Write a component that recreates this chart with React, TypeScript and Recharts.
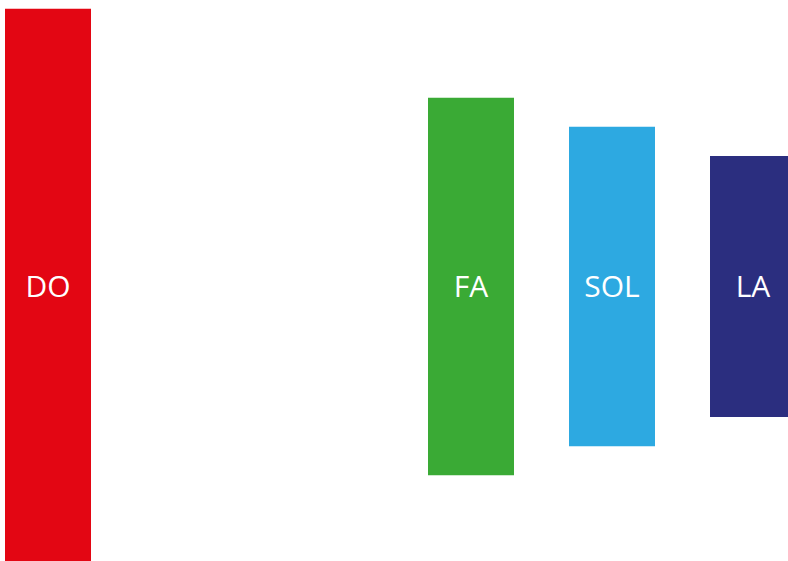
import React from "react";
import { BarChart, Bar, XAxis, YAxis, Cell, LabelList } from "recharts";

const notes = ["DO", "RE", "MI", "FA", "SOL", "LA"];
const heights: (number | null)[] = [100, null, null, 68, 57.5, 47];
const colors = ["#E30613", "#F39200", "#FFDD00", "#3AAA35", "#2DA9E1", "#2B2E7F"];

const data = notes.map((n, i) => ({
  note: n,
  range: heights[i] == null ? null : [-(heights[i] as number) / 2, (heights[i] as number) / 2],
  label: heights[i] == null ? "" : n,
}));

export default function App() {
  return (
    <div style={{ position: "fixed", left: 0, top: 0, width: 788, height: 561, overflow: "hidden", background: "#fff" }}>
      <div style={{ position: "absolute", left: -23, top: -19 }}>
        <BarChart width={846} height={611} data={data} margin={{ top: 0, right: 0, bottom: 0, left: 0 }}>
          <XAxis dataKey="note" hide />
          <YAxis hide domain={[-55, 55]} />
          <Bar dataKey="range" barSize={86} isAnimationActive={false}>
            {data.map((d, i) => (
              <Cell key={i} fill={colors[i]} />
            ))}
            <LabelList
              dataKey="label"
              position="center"
              fill="#fff"
              style={{ fontFamily: "'Open Sans', sans-serif", fontSize: 30 }}
            />
          </Bar>
        </BarChart>
      </div>
    </div>
  );
}
